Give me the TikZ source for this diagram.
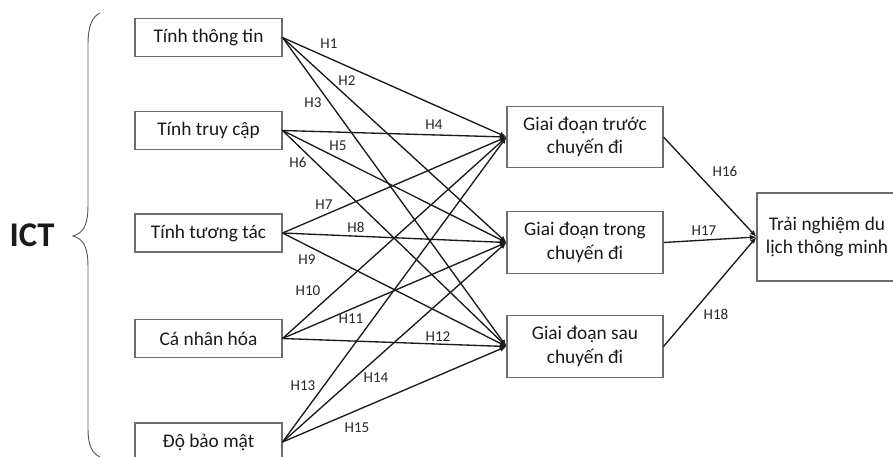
\documentclass[tikz,border=0pt]{standalone}
\usepackage{fontspec}
\setmainfont{Carlito}
\usetikzlibrary{arrows.meta}
\definecolor{boxline}{HTML}{6E6E6E}
\definecolor{ink}{HTML}{1A1A1A}
\definecolor{lbl}{HTML}{262626}
\tikzset{
  factor/.style={draw=boxline, line width=0.8pt, fill=white, text=ink,
    minimum width=110.25pt, minimum height=28.5pt, inner sep=0pt,
    font=\fontsize{14.5}{17.5}\selectfont},
  stage/.style={draw=boxline, line width=0.8pt, fill=white, text=ink,
    minimum width=117pt, minimum height=46pt, inner sep=0pt, align=center,
    font=\fontsize{14.5}{17.5}\selectfont},
  outcome/.style={draw=boxline, line width=0.8pt, fill=white, text=ink,
    minimum width=105pt, minimum height=66pt, inner sep=0pt, align=center,
    font=\fontsize{14.5}{17.5}\selectfont},
  hyp/.style={text=lbl, inner sep=0pt, font=\fontsize{11.3}{13}\selectfont},
  link/.style={draw=ink, line width=1pt, -{Latex[length=5pt,width=4pt]}},
  bracket/.style={draw=black!65, line width=0.7pt},
}
\begin{document}
\begin{tikzpicture}[x=0.75pt, y=-0.75pt]
\useasboundingbox (0,0) rectangle (893,457);
\clip (0,0) rectangle (893,457);

% ICT dimensions
\node[factor] (f1) at (208.5,37.5) {Tính thông tin};
\node[factor] (f2) at (208.5,130.5) {Tính truy cập};
\node[factor] (f3) at (208.5,233) {Tính tương tác};
\node[factor] (f4) at (208.5,338.5) {Cá nhân hóa};
\node[factor] (f5) at (208.5,442) {Độ bảo mật};

% trip stages
\node[stage] (s1) at (585,137) {Giai đoạn trước\\chuyến đi};
\node[stage] (s2) at (585,242.5) {Giai đoạn trong\\chuyến đi};
\node[stage] (s3) at (585,346.5) {Giai đoạn sau\\chuyến đi};

% outcome
\node[outcome] (out) at (827,237) {Trải nghiệm du\\lịch thông minh};

% group label and brace
\node[text=ink, font=\fontsize{26}{30}\bfseries] (ict) at (32,235) {ICT};
\draw[bracket] (100,13) .. controls (92,17) and (88,26) .. (88,45)
  -- (88,205) .. controls (88,226) and (83,233) .. (73,236)
  .. controls (83,239) and (88,246) .. (88,267)
  -- (88,428) .. controls (88,446) and (92,453) .. (100,457);

% factor -> stage links
\foreach \f in {1,...,5}{
  \foreach \s in {1,2,3}{
    \draw[link] (f\f.east) -- (s\s.west);
  }
}

% stage -> outcome links
\foreach \s in {1,2,3}{
  \draw[link] (s\s.east) -- (out.west);
}

% hypothesis labels
\node[hyp] (h1) at (329,44) {H1};
\node[hyp] (h2) at (347,81) {H2};
\node[hyp] (h3) at (313,103) {H3};
\node[hyp] (h4) at (434,125) {H4};
\node[hyp] (h5) at (338,146) {H5};
\node[hyp] (h6) at (298,162) {H6};
\node[hyp] (h7) at (324,205) {H7};
\node[hyp] (h8) at (356,227) {H8};
\node[hyp] (h9) at (307,260) {H9};
\node[hyp] (h10) at (308,291) {H10};
\node[hyp] (h11) at (351,319) {H11};
\node[hyp] (h12) at (438,337) {H12};
\node[hyp] (h13) at (303,386) {H13};
\node[hyp] (h14) at (376,378) {H14};
\node[hyp] (h15) at (357,428) {H15};
\node[hyp] (h16) at (725,171) {H16};
\node[hyp] (h17) at (704,231) {H17};
\node[hyp] (h18) at (716,314) {H18};
\end{tikzpicture}
\end{document}
